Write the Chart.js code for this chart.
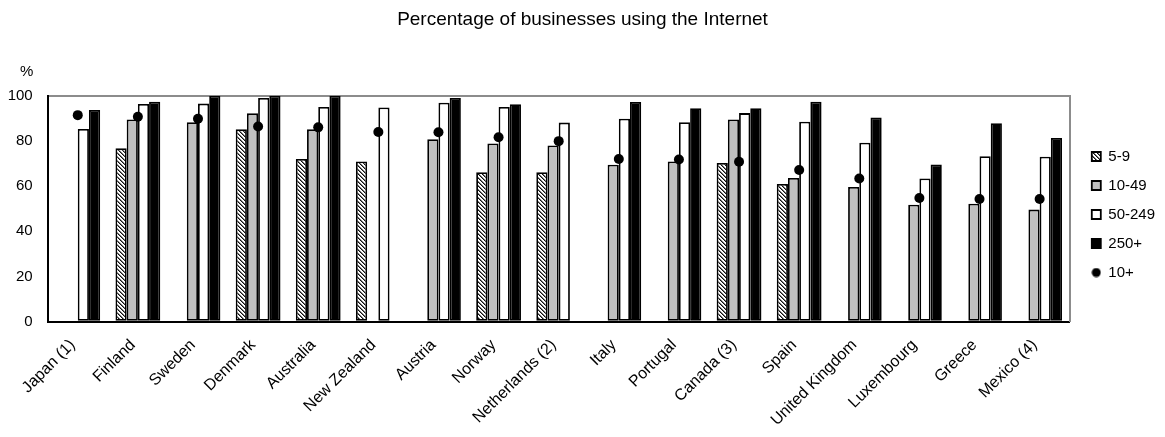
<!DOCTYPE html>
<html>
<head>
<meta charset="utf-8">
<script src="https://cdn.jsdelivr.net/npm/chart.js@4/dist/chart.umd.min.js"></script>
<style>
    body { margin: 0; background: #fff; }
</style>
</head>
<body>
<canvas id="myCanvas" width="1165" height="437"></canvas>
<script>
var countries = ['Japan (1)', 'Finland', 'Sweden', 'Denmark', 'Australia', 'New Zealand', 'Austria', 'Norway',
    'Netherlands (2)', 'Italy', 'Portugal', 'Canada (3)', 'Spain', 'United Kingdom', 'Luxembourg', 'Greece', 'Mexico (4)'];

// share of businesses using the Internet, by number of employees
var size5to9 = [null, 76.7, null, 85.1, 72.0, 70.9, null, 66.1, 66.1, null, null, 70.2, 60.9, null, null, null, null];
var size10to49 = [null, 89.5, 88.3, 92.2, 85.1, null, 80.7, 78.9, 78.0, 69.5, 70.9, 89.5, 63.6, 59.6, 51.8, 52.2, 49.6];
var size50to249 = [85.3, 96.3, 96.5, 99.0, 95.0, 94.8, 96.9, 95.0, 88.1, 89.8, 88.3, 92.3, 88.5, 79.2, 63.4, 73.2, 73.0];
var size250plus = [93.7, 97.3, 100, 100, 100, null, 99.0, 96.2, null, 97.2, 94.5, 94.5, 97.3, 90.4, 69.6, 87.8, 81.3];
var size10plus = [91.4, 90.7, 89.8, 86.4, 86.0, 83.9, 83.8, 81.6, 79.9, 72.0, 71.8, 70.8, 67.1, 63.4, 54.7, 54.3, 54.3];

var yTicks = [0, 20, 40, 60, 80, 100];

var FONT = 'Arial, "Liberation Sans", sans-serif';

function MakeHatch(ctx) {
    var tile = document.createElement('canvas');
    tile.width = 4;
    tile.height = 4;
    var g = tile.getContext('2d');
    g.fillStyle = '#fff';
    g.fillRect(0, 0, 4, 4);
    for (var i = 0; i < 4; i++) {
        g.fillStyle = '#111';
        g.fillRect(i, i, 1, 1);
        g.fillStyle = '#777';
        g.fillRect((i + 1) % 4, i, 1, 1);
    }
    return ctx.createPattern(tile, 'repeat');
}

function MakeDot() {
    var c = document.createElement('canvas');
    c.width = 10;
    c.height = 10;
    var g = c.getContext('2d');
    g.fillStyle = '#000';
    g.beginPath();
    g.arc(5, 5, 4.5, 0, Math.PI * 2);
    g.fill();
    return c;
}

// "%" unit label above the value axis
var unitLabel = {
    id: 'unitLabel',
    afterDraw: function (chart) {
        var ctx = chart.ctx;
        var y = chart.scales.y;
        ctx.save();
        ctx.font = '15px ' + FONT;
        ctx.fillStyle = '#000';
        ctx.textAlign = 'center';
        ctx.textBaseline = 'middle';
        ctx.fillText('%', y.right - 21, y.top - 24);
        ctx.restore();
    }
};

function SetGraph() {
    var ctx = document.getElementById('myCanvas').getContext('2d');
    var hatch = MakeHatch(ctx);
    var dot = MakeDot();

    var barStyle = {
        borderColor: '#000',
        borderWidth: 1.8,
        borderSkipped: false,
        categoryPercentage: 0.745,
        barPercentage: 1.0,
        order: 1
    };

    var myChart = new Chart(ctx, {
        type: 'bar',
        data: {
            labels: countries,
            datasets: [
                Object.assign({ label: '5-9', data: size5to9, backgroundColor: hatch }, barStyle),
                Object.assign({ label: '10-49', data: size10to49, backgroundColor: '#c0c0c0' }, barStyle),
                Object.assign({ label: '50-249', data: size50to249, backgroundColor: '#fff' }, barStyle),
                Object.assign({ label: '250+', data: size250plus, backgroundColor: '#000' }, barStyle),
                {
                    type: 'line',
                    label: '10+',
                    data: size10plus,
                    showLine: false,
                    pointStyle: 'circle',
                    pointRadius: 5,
                    pointBackgroundColor: '#000',
                    pointBorderColor: '#000',
                    backgroundColor: '#000',
                    borderColor: '#000',
                    borderWidth: 0,
                    order: 0
                }
            ]
        },
        options: {
            responsive: false,
            animation: false,
            layout: { padding: { left: 0, right: 0, top: 0, bottom: 8 } },
            scales: {
                x: {
                    grid: { display: false, drawTicks: false },
                    border: { display: true, color: '#000', width: 2 },
                    ticks: {
                        color: '#000',
                        font: { family: FONT, size: 16 },
                        minRotation: 45,
                        maxRotation: 45,
                        autoSkip: false,
                        labelOffset: -5,
                        padding: 14
                    },
                    afterFit: function (scale) { scale.height = 107.3; }
                },
                y: {
                    min: 0,
                    max: 100,
                    afterBuildTicks: function (scale) {
                        scale.ticks = yTicks.map(function (v) { return { value: v }; });
                    },
                    grid: {
                        drawTicks: false,
                        lineWidth: 2,
                        color: function (c) { return c.tick && c.tick.value === 100 ? '#8c8c8c' : 'rgba(0,0,0,0)'; }
                    },
                    border: { display: true, color: '#000', width: 2 },
                    ticks: {
                        color: '#000',
                        font: { family: FONT, size: 15 },
                        padding: 15
                    },
                    afterFit: function (scale) { scale.width = 47.7; }
                },
                // right-hand frame line, also keeps the legend clear of the plot
                frame: {
                    position: 'right',
                    grid: { display: false, drawTicks: false },
                    border: { display: true, color: '#8c8c8c', width: 2 },
                    ticks: { display: false },
                    afterFit: function (scale) { scale.width = 8.1; }
                }
            },
            plugins: {
                title: {
                    display: true,
                    text: 'Percentage of businesses using the Internet',
                    color: '#000',
                    font: { family: FONT, size: 19, weight: 'normal' },
                    padding: { top: 8, bottom: 64.9 }
                },
                legend: {
                    position: 'right',
                    labels: {
                        color: '#000',
                        font: { family: FONT, size: 15 },
                        usePointStyle: true,
                        boxWidth: 9,
                        boxHeight: 9,
                        padding: 14,
                        sort: function (a, b) { return a.datasetIndex - b.datasetIndex; },
                        generateLabels: function (chart) {
                            var items = Chart.defaults.plugins.legend.labels.generateLabels(chart);
                            items.forEach(function (item) {
                                item.pointStyle = item.datasetIndex === 4 ? dot : 'rect';
                            });
                            return items;
                        }
                    }
                },
                tooltip: { enabled: false }
            }
        },
        plugins: [unitLabel]
    });
}

SetGraph();
</script>
</body>
</html>
